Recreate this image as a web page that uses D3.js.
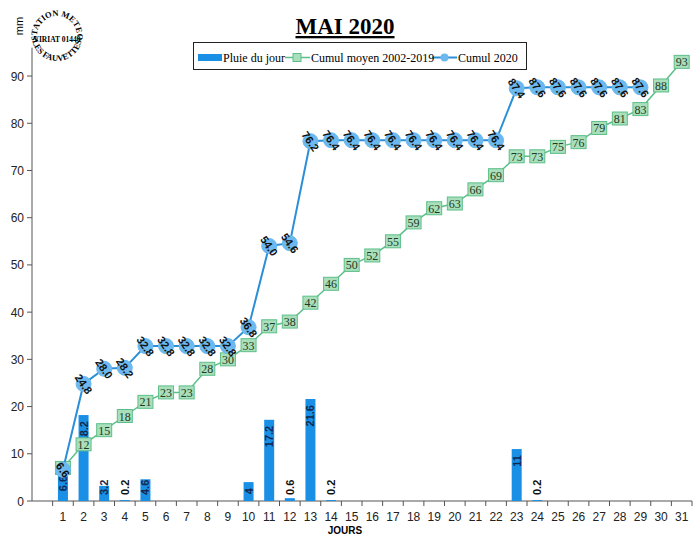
<!DOCTYPE html>
<html>
<head>
<meta charset="utf-8">
<script src="https://cdn.jsdelivr.net/npm/d3@7"></script>
<style>
body { margin: 0; background: #fff; }
svg { display: block; }
</style>
</head>
<body>
<div id="chart"></div>
<script>
var width = 700;
var height = 548;

// days of may
var days = d3.range(1, 32);
// daily rain, mm
var pluie = [6.6, 18.2, 3.2, 0.2, 4.6, 0, 0, 0, 0, 4, 17.2, 0.6, 21.6, 0.2, 0, 0, 0, 0, 0, 0, 0, 0, 11, 0.2, 0, 0, 0, 0, 0, 0, 0];
// average cumulative 2002-2019
var cumulMoyen = [7, 12, 15, 18, 21, 23, 23, 28, 30, 33, 37, 38, 42, 46, 50, 52, 55, 59, 62, 63, 66, 69, 73, 73, 75, 76, 79, 81, 83, 88, 93];
// cumulative 2020 (up to day 29)
var cumul2020 = [6.6, 24.8, 28.0, 28.2, 32.8, 32.8, 32.8, 32.8, 32.8, 36.8, 54.0, 54.6, 76.2, 76.4, 76.4, 76.4, 76.4, 76.4, 76.4, 76.4, 76.4, 76.4, 87.4, 87.6, 87.6, 87.6, 87.6, 87.6, 87.6];
var yTicks = [0, 10, 20, 30, 40, 50, 60, 70, 80, 90];

var barColor = "#1a8fe6";
var greenLine = "#5cbf8a";
var greenFill = "#a9dfbb";
var blueLine = "#2b8fd8";
var blueFill = "#6cb9ef";

var svg = d3.select("#chart").append("svg")
	.attr("width", width)
	.attr("height", height);

// band scale with an empty first slot like the original
var x = d3.scaleBand()
	.domain([""].concat(days.map(String)))
	.range([32, 692])
	.paddingInner(0).paddingOuter(0);
var y = d3.scaleLinear()
	.domain([0, 96])
	.range([501, 47.7]);

function cx(i) { return x(String(days[i])) + x.bandwidth() / 2; }

// axes
var xAxis = svg.append("g").attr("transform", "translate(0," + y(0) + ")");
xAxis.append("line").attr("x1", 32).attr("x2", 692).attr("stroke", "#555");
xAxis.selectAll(".xt").data(x.domain())
	.enter().append("line")
	.attr("x1", function(d, i) { return x.range()[0] + x.bandwidth() * (i + 1); })
	.attr("x2", function(d, i) { return x.range()[0] + x.bandwidth() * (i + 1); })
	.attr("y1", 0).attr("y2", 5)
	.attr("stroke", "#555");
xAxis.selectAll(".xl").data(days)
	.enter().append("text")
	.attr("x", function(d, i) { return cx(i); })
	.attr("y", 20)
	.attr("text-anchor", "middle")
	.attr("font-family", "Liberation Sans, Arial")
	.attr("font-size", "12px")
	.attr("fill", "#222")
	.text(function(d) { return d; });
svg.append("text")
	.attr("x", 345).attr("y", 534)
	.attr("text-anchor", "middle")
	.attr("font-family", "Liberation Sans, Arial")
	.attr("font-weight", "bold")
	.attr("font-size", "10px")
	.text("JOURS");

var yAxis = svg.append("g").attr("transform", "translate(32,0)");
yAxis.append("line").attr("y1", y(0)).attr("y2", y.range()[1]).attr("stroke", "#555");
yAxis.selectAll(".yt").data(yTicks)
	.enter().append("line")
	.attr("x1", -5).attr("x2", 0)
	.attr("y1", function(d) { return y(d); })
	.attr("y2", function(d) { return y(d); })
	.attr("stroke", "#555");
yAxis.selectAll(".yl").data(yTicks)
	.enter().append("text")
	.attr("x", -8)
	.attr("y", function(d) { return y(d) + 4.5; })
	.attr("text-anchor", "end")
	.attr("font-family", "Liberation Sans, Arial")
	.attr("font-size", "12px")
	.attr("fill", "#222")
	.text(function(d) { return d; });
svg.append("text")
	.attr("transform", "translate(23,26) rotate(-90)")
	.attr("text-anchor", "middle")
	.attr("font-family", "Liberation Sans, Arial")
	.attr("font-size", "11px")
	.text("mm");

// rain bars
var barW = 10;
var rain = pluie.map(function(v, i) { return {v: v, i: i}; });
svg.selectAll(".bar").data(rain)
	.enter().append("rect")
	.attr("x", function(d) { return cx(d.i) - barW / 2; })
	.attr("y", function(d) { return y(d.v); })
	.attr("width", barW)
	.attr("height", function(d) { return y(0) - y(d.v); })
	.attr("fill", barColor);

// bar labels (rotated), inside end, pushed up when the bar is too small
svg.selectAll(".barlbl").data(rain.filter(function(d) { return d.v > 0; }))
	.enter().append("text")
	.attr("font-family", "Liberation Sans, Arial")
	.attr("font-weight", "bold")
	.attr("font-size", "11px")
	.attr("fill", function(d) { return d.v < 1 ? "#111" : "#12284e"; })
	.attr("text-anchor", "end")
	.text(function(d) { return d.v; })
	.each(function(d) {
		var len = this.getComputedTextLength();
		var top = Math.min(y(d.v) + 6, 495 - len);
		d3.select(this).attr("transform", "translate(" + (cx(d.i) + 4) + "," + top + ") rotate(-90)");
	});

// green line: average cumul
var lineG = d3.line()
	.x(function(d, i) { return cx(i); })
	.y(function(d) { return y(d); });
svg.append("path")
	.datum(cumulMoyen)
	.attr("d", lineG)
	.attr("fill", "none")
	.attr("stroke", greenLine)
	.attr("stroke-width", 1.5);
var gm = svg.selectAll(".gm").data(cumulMoyen)
	.enter().append("g")
	.attr("transform", function(d, i) { return "translate(" + cx(i) + "," + y(d) + ")"; });
gm.append("rect")
	.attr("x", -7.5).attr("y", -6.5)
	.attr("width", 15).attr("height", 13)
	.attr("fill", greenFill)
	.attr("stroke", greenLine)
	.attr("stroke-width", 1);
gm.append("text")
	.attr("y", 4.5)
	.attr("text-anchor", "middle")
	.attr("font-family", "Liberation Serif, Times New Roman")
	.attr("font-size", "12px")
	.attr("fill", "#1d3a24")
	.text(function(d) { return d; });

// blue line: cumul 2020
svg.append("path")
	.datum(cumul2020)
	.attr("d", lineG)
	.attr("fill", "none")
	.attr("stroke", blueLine)
	.attr("stroke-width", 2);
var bm = svg.selectAll(".bm").data(cumul2020)
	.enter().append("g")
	.attr("transform", function(d, i) { return "translate(" + cx(i) + "," + y(d) + ")"; });
bm.append("circle")
	.attr("r", 7.5)
	.attr("fill", blueFill)
	.attr("stroke", blueFill);
bm.append("text")
	.attr("transform", "rotate(55)")
	.attr("y", 4)
	.attr("text-anchor", "middle")
	.attr("font-family", "Liberation Sans, Arial")
	.attr("font-weight", "bold")
	.attr("font-size", "11px")
	.attr("fill", "#111")
	.text(function(d) { return d.toFixed(1); });

// title
svg.append("text")
	.attr("x", 345).attr("y", 34)
	.attr("text-anchor", "middle")
	.attr("font-family", "Liberation Serif, Times New Roman")
	.attr("font-weight", "bold")
	.attr("font-size", "23px")
	.attr("text-decoration", "underline")
	.text("MAI 2020");

// legend
var lg = svg.append("g");
lg.append("rect")
	.attr("x", 193.5).attr("y", 42.5)
	.attr("width", 333).attr("height", 27)
	.attr("fill", "#fff")
	.attr("stroke", "#222");
lg.append("rect").attr("x", 198).attr("y", 54).attr("width", 24).attr("height", 7).attr("fill", barColor);
lg.append("line").attr("x1", 285).attr("x2", 310).attr("y1", 57.5).attr("y2", 57.5).attr("stroke", greenLine).attr("stroke-width", 1.5);
lg.append("rect").attr("x", 293).attr("y", 53.5).attr("width", 8).attr("height", 8).attr("fill", greenFill).attr("stroke", greenLine);
lg.append("line").attr("x1", 432).attr("x2", 457).attr("y1", 57.5).attr("y2", 57.5).attr("stroke", blueLine).attr("stroke-width", 2);
lg.append("circle").attr("cx", 444.5).attr("cy", 57.5).attr("r", 4).attr("fill", blueFill);
var lgText = [["Pluie du jour", 223], ["Cumul moyen 2002-2019", 311], ["Cumul 2020", 458]];
lg.selectAll(".lt").data(lgText)
	.enter().append("text")
	.attr("x", function(d) { return d[1]; })
	.attr("y", 61.5)
	.attr("font-family", "Liberation Serif, Times New Roman")
	.attr("font-size", "12px")
	.text(function(d) { return d[0]; });

// station stamp, text on arcs around (57,36)
var sx = 57, sy = 36;
function arcPath(r, a0, a1, large, sweep) {
	// angles in degrees, 0 = right, counted clockwise on screen
	var p0 = [sx + r * Math.cos(a0 * Math.PI / 180), sy + r * Math.sin(a0 * Math.PI / 180)];
	var p1 = [sx + r * Math.cos(a1 * Math.PI / 180), sy + r * Math.sin(a1 * Math.PI / 180)];
	return "M" + p0[0] + "," + p0[1] + " A" + r + "," + r + " 0 " + large + " " + sweep + " " + p1[0] + "," + p1[1];
}
var defs = svg.append("defs");
defs.append("path").attr("id", "arcTop").attr("d", arcPath(20, 150, 390, 1, 1));
defs.append("path").attr("id", "arcBot").attr("d", arcPath(25, 170, 10, 0, 0));
var stamp = [["#arcTop", "STATION METEO"], ["#arcBot", "LES FAUVETTES"]];
svg.selectAll(".stamp").data(stamp)
	.enter().append("text")
	.attr("font-family", "Liberation Serif, Times New Roman")
	.attr("font-weight", "bold")
	.attr("font-size", "8.5px")
	.append("textPath")
	.attr("href", function(d) { return d[0]; })
	.attr("startOffset", "50%")
	.attr("text-anchor", "middle")
	.text(function(d) { return d[1]; });
svg.append("text")
	.attr("x", sx).attr("y", sy + 6)
	.attr("text-anchor", "middle")
	.attr("font-family", "Liberation Serif, Times New Roman")
	.attr("font-weight", "bold")
	.attr("font-size", "7.5px")
	.text("VIRIAT 01440");
</script>
</body>
</html>
